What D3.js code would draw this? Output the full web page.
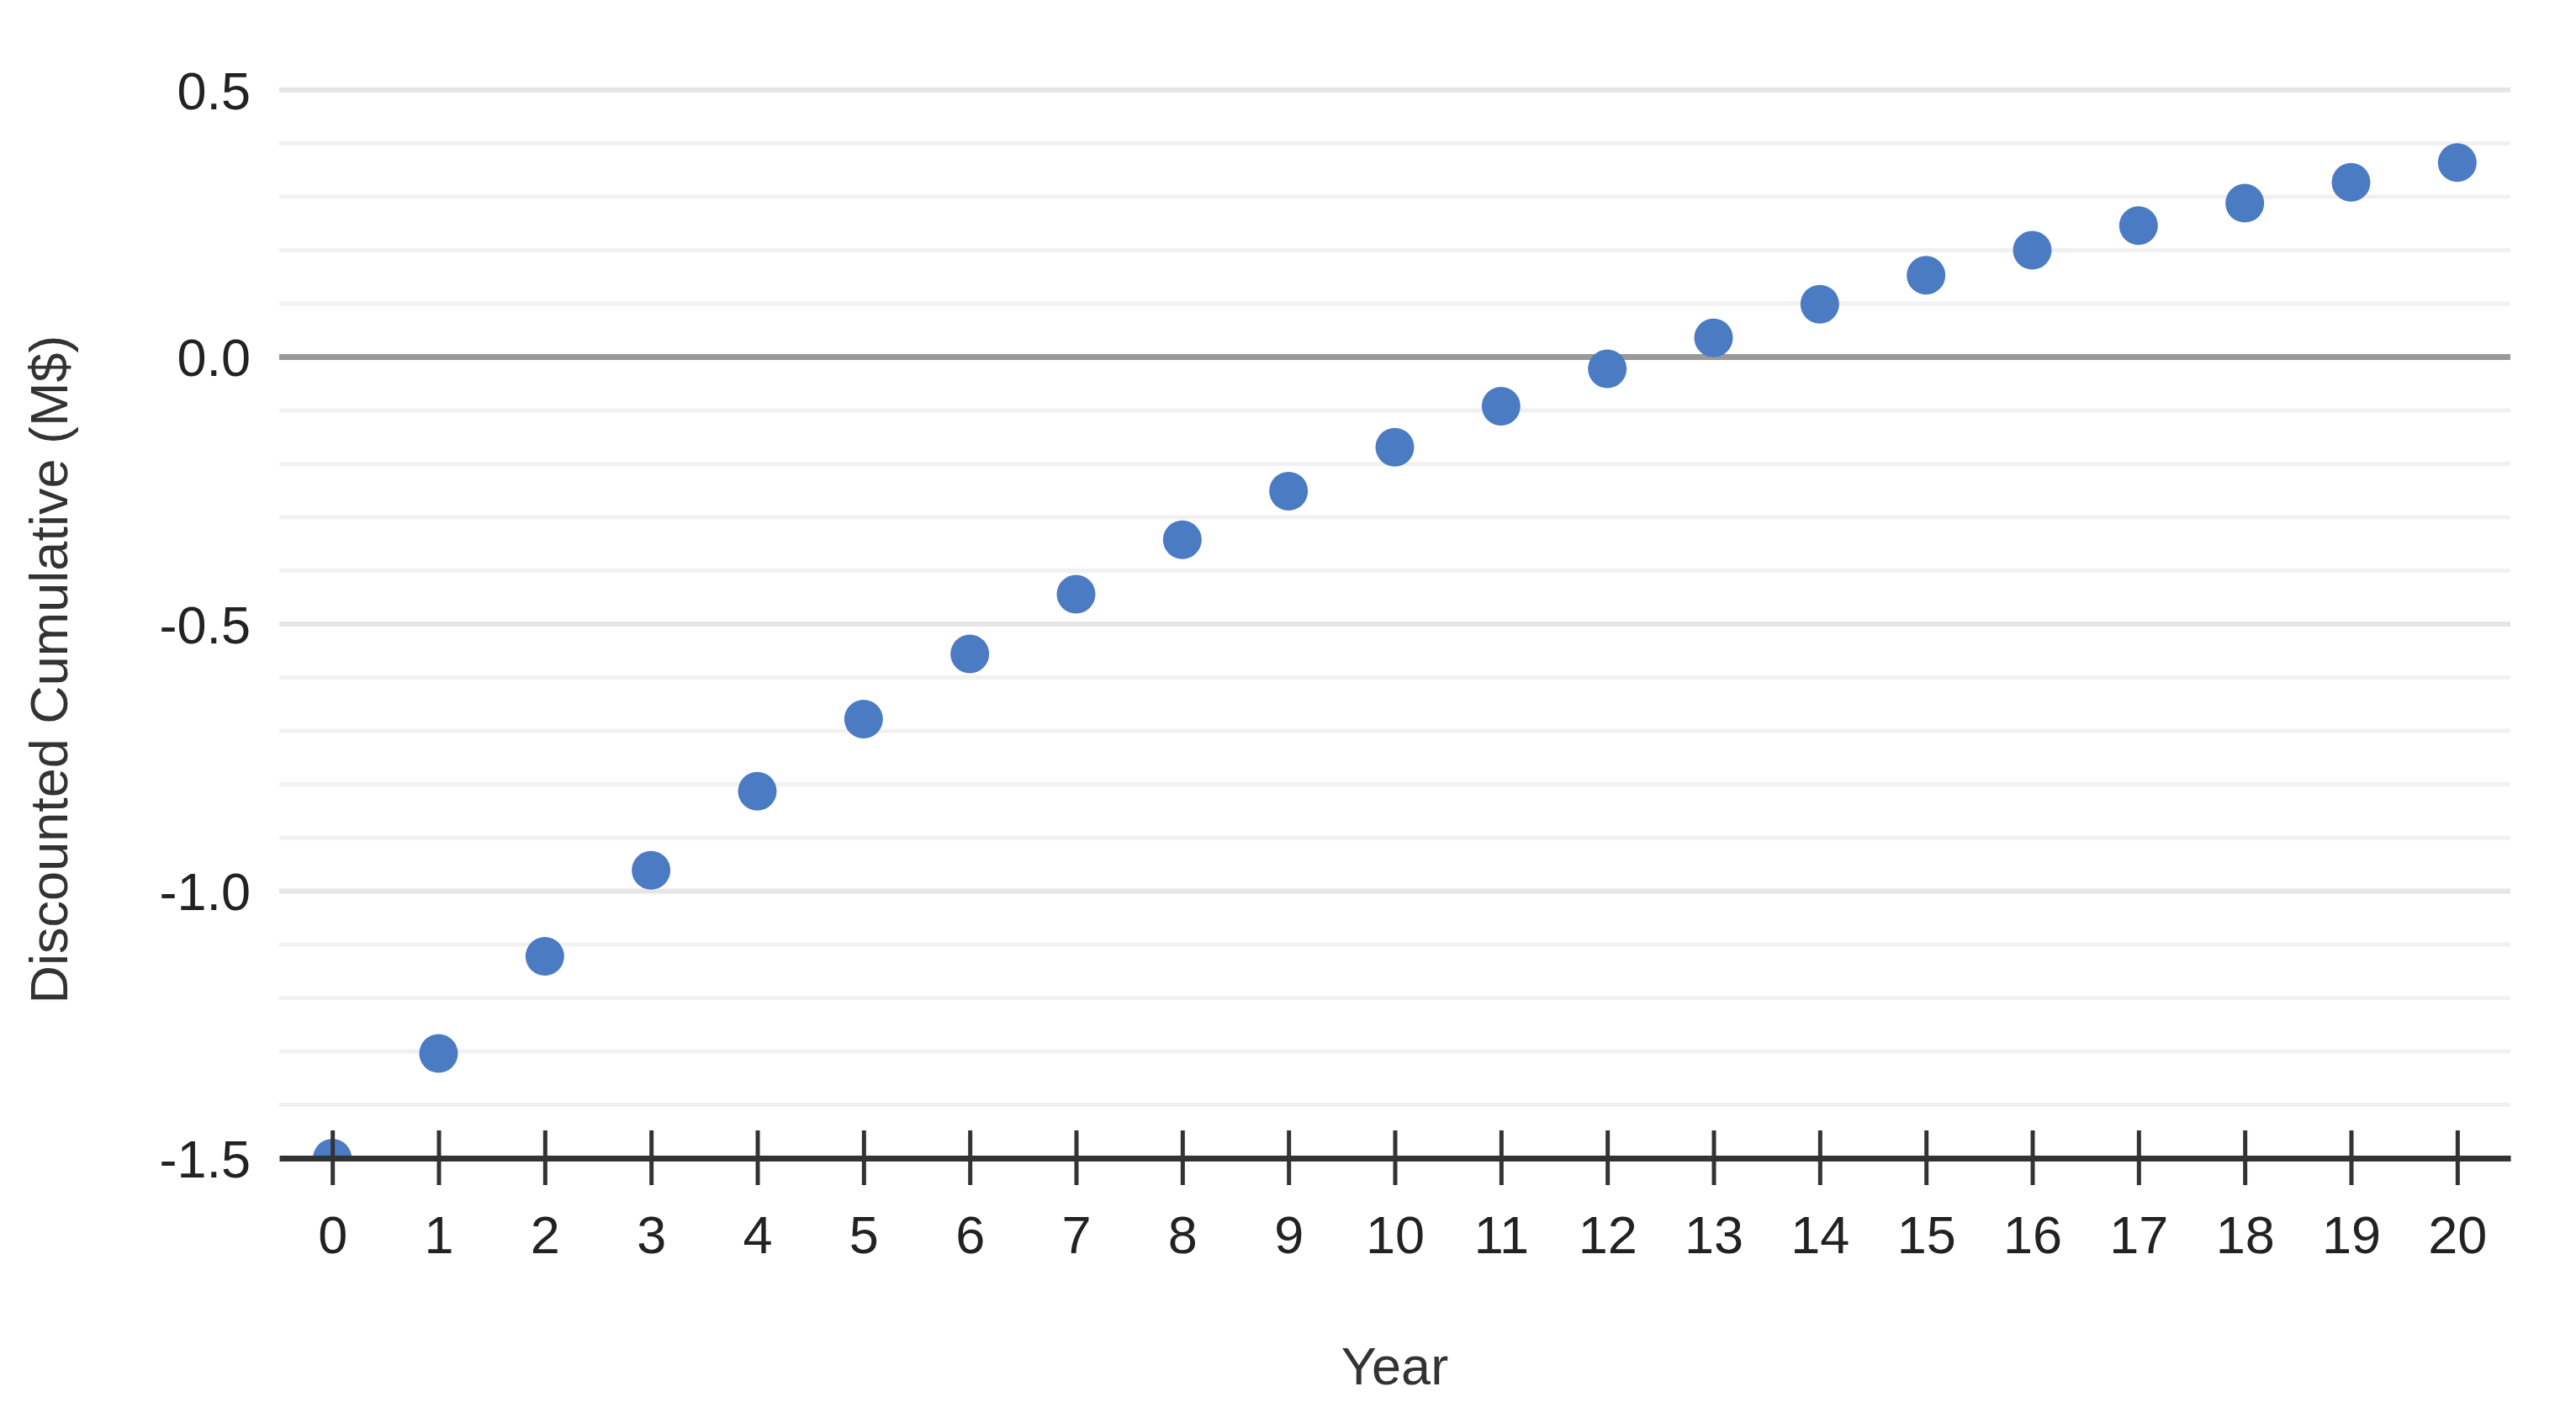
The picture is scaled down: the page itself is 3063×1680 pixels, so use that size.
<!DOCTYPE html>
<html>
<head>
<meta charset="utf-8">
<script src="https://cdn.jsdelivr.net/npm/d3@7"></script>
<style>
  body { margin: 0; background: #fff; }
  text { font-family: "Liberation Sans", Arial, sans-serif; }
</style>
</head>
<body>
<div id="canvas"></div>
<script>
// data
var years = [0, 1, 2, 3, 4, 5, 6, 7, 8, 9, 10, 11, 12, 13, 14, 15, 16, 17, 18, 19, 20];
var cumulative = [-1.5, -1.304, -1.122, -0.961, -0.813, -0.678, -0.556, -0.444, -0.342, -0.251,
  -0.169, -0.092, -0.022, 0.036, 0.099, 0.153, 0.200, 0.246, 0.288, 0.327, 0.364];
var yTicks = [-1.5, -1.0, -0.5, 0.0, 0.5];
var yMinor = [-1.4, -1.3, -1.2, -1.1, -0.9, -0.8, -0.7, -0.6, -0.4, -0.3, -0.2, -0.1, 0.1, 0.2, 0.3, 0.4];
var xTitle = "Year";
var yTitle = "Discounted Cumulative (M$)";

(function(){
  var width = 3063;
  var height = 1680;
  var plotLeft = 332, plotRight = 2985, plotTop = 107, plotBottom = 1377;

  var svg = d3.select("#canvas").append("svg")
    .attr("width", width)
    .attr("height", height);

  svg.append("rect").attr("width", width).attr("height", height).attr("fill", "#fff");

  var x = d3.scaleLinear().domain([-0.5, 20.5]).range([plotLeft, plotRight]);
  var y = d3.scaleLinear().domain([-1.5, 0.5]).range([plotBottom, plotTop]);

  // minor gridlines
  svg.append("g").selectAll("line").data(yMinor).enter().append("line")
    .attr("x1", plotLeft).attr("x2", plotRight)
    .attr("y1", function(d){ return y(d); })
    .attr("y2", function(d){ return y(d); })
    .attr("stroke", "#f1f1f1")
    .attr("stroke-width", 5);

  // major gridlines
  svg.append("g").selectAll("line").data(yTicks.filter(function(d){ return d !== 0 && d !== -1.5; }))
    .enter().append("line")
    .attr("x1", plotLeft).attr("x2", plotRight)
    .attr("y1", function(d){ return y(d); })
    .attr("y2", function(d){ return y(d); })
    .attr("stroke", "#e6e6e6")
    .attr("stroke-width", 6);

  // zero line
  svg.append("line")
    .attr("x1", plotLeft).attr("x2", plotRight)
    .attr("y1", y(0)).attr("y2", y(0))
    .attr("stroke", "#999")
    .attr("stroke-width", 7);

  // y labels
  var yAxis = d3.axisLeft(y).tickValues(yTicks).tickSize(0).tickPadding(34)
    .tickFormat(function(d){ return d.toFixed(1); });
  var gy = svg.append("g").attr("transform", "translate(" + plotLeft + ",0)").call(yAxis);
  gy.select(".domain").remove();
  gy.selectAll("text")
    .attr("dy", "0.35em")
    .style("font-size", "63px")
    .style("font-family", "'Liberation Sans', Arial, sans-serif")
    .attr("fill", "#222");

  // dots, clipped at the bottom axis
  svg.append("clipPath").attr("id", "plotclip")
    .append("rect").attr("x", 0).attr("y", 0).attr("width", width).attr("height", plotBottom);

  svg.append("g").attr("clip-path", "url(#plotclip)")
    .selectAll("circle").data(years).enter().append("circle")
    .attr("cx", function(d){ return x(d); })
    .attr("cy", function(d, i){ return y(cumulative[i]); })
    .attr("r", 23)
    .attr("fill", "#4a7bc3");

  // x axis with ticks crossing the line
  var xAxis = d3.axisBottom(x).tickValues(years).tickSize(32).tickSizeOuter(0)
    .tickFormat(function(d){ return String(d); });
  var gx = svg.append("g").attr("transform", "translate(0," + plotBottom + ")").call(xAxis);
  gx.select(".domain").attr("stroke", "#333").attr("stroke-width", 7);
  gx.selectAll(".tick line")
    .attr("y1", -33).attr("y2", 32)
    .attr("stroke", "#333")
    .attr("stroke-width", 5);
  gx.selectAll("text")
    .attr("y", 113).attr("dy", 0)
    .style("font-size", "63px")
    .style("font-family", "'Liberation Sans', Arial, sans-serif")
    .attr("fill", "#222");

  // axis titles
  svg.append("text")
    .attr("x", (plotLeft + plotRight) / 2)
    .attr("y", 1646)
    .attr("text-anchor", "middle")
    .style("font-size", "63px")
    .attr("fill", "#333")
    .text(xTitle);

  svg.append("text")
    .attr("transform", "translate(80,796) rotate(-90)")
    .attr("text-anchor", "middle")
    .style("font-size", "63px")
    .attr("fill", "#333")
    .text(yTitle);
})();
</script>
</body>
</html>
